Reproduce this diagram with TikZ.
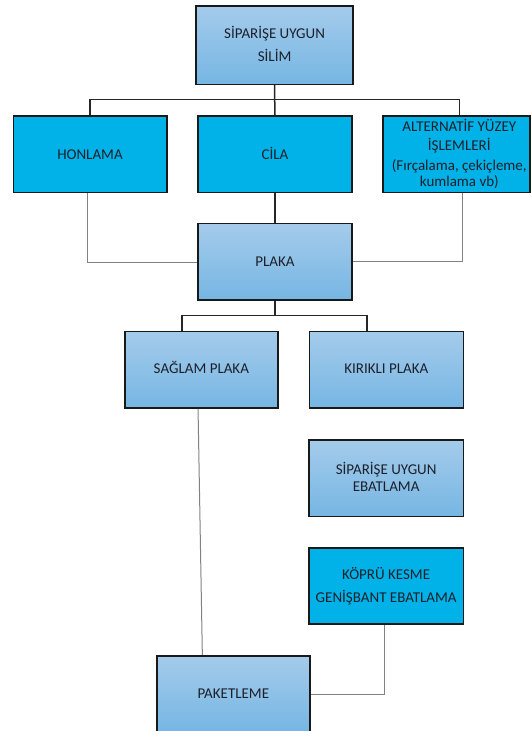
\documentclass[tikz,border=0pt]{standalone}
\usepackage{fontspec}
\setmainfont{Carlito}
\definecolor{cyanbox}{RGB}{0,178,232}
\definecolor{gradtop}{RGB}{164,203,235}
\definecolor{gradbot}{RGB}{118,182,227}
\definecolor{txtcol}{RGB}{28,32,42}
\definecolor{edgecol}{RGB}{25,25,25}
\definecolor{graylin}{RGB}{130,130,130}
\tikzset{
  boxbase/.style={draw=edgecol, line width=1.6pt, rectangle, inner sep=0pt, minimum height=76.5pt},
  gradbox/.style={boxbase, top color=gradtop, bottom color=gradbot},
  cyanbx/.style={boxbase, fill=cyanbox},
  lbl/.style={anchor=base, inner sep=0pt, text=txtcol, font=\fontsize{15}{18}\selectfont},
  darkln/.style={draw=black!85, line width=1.5pt},
  grayln/.style={draw=graylin, line width=1pt},
}
\begin{document}
\begin{tikzpicture}[x=1pt, y=-1pt]
\useasboundingbox (0,0) rectangle (531,731);
\clip (0,0) rectangle (531,731);
% boxes
\node[gradbox, minimum width=157pt, minimum height=78.3pt] (top) at (274.6,45.2) {};
\node[cyanbx, minimum width=153.4pt] (hon) at (90,154.2) {};
\node[cyanbx, minimum width=154pt] (cila) at (275,154.2) {};
\node[cyanbx, minimum width=147pt] (alt) at (456.5,154.2) {};
\node[gradbox, minimum width=154pt] (plaka) at (275,261.85) {};
\node[gradbox, minimum width=153.3pt] (sag) at (201.35,369.85) {};
\node[gradbox, minimum width=154pt] (kir) at (386.3,369.85) {};
\node[gradbox, minimum width=154.3pt] (ebat) at (386.15,478.35) {};
\node[cyanbx, minimum width=154.3pt] (kop) at (386.15,586) {};
\node[gradbox, minimum width=153.3pt] (pak) at (233.35,694) {};
% texts
\node[lbl] (top-a) at (274.6,38.7) {SİPARİŞE UYGUN};
\node[lbl] (top-b) at (274.6,61.7) {SİLİM};
\node[lbl] (hon-a) at (90,159) {HONLAMA};
\node[lbl] (cila-a) at (275,159) {CİLA};
\node[lbl] (alt-a) at (459.3,131) {ALTERNATİF YÜZEY};
\node[lbl] (alt-b) at (459.3,150) {İŞLEMLERİ};
\node[lbl] (alt-c) at (459.3,170.5) {(Fırçalama, çekiçleme,};
\node[lbl] (alt-d) at (459.3,186.7) {kumlama vb)};
\node[lbl] (plaka-a) at (275,266.5) {PLAKA};
\node[lbl] (sag-a) at (201.35,373.5) {SAĞLAM PLAKA};
\node[lbl] (kir-a) at (386.3,373.5) {KIRIKLI PLAKA};
\node[lbl] (ebat-a) at (386.15,474) {SİPARİŞE UYGUN};
\node[lbl] (ebat-b) at (386.15,491) {EBATLAMA};
\node[lbl] (kop-a) at (386.15,579.3) {KÖPRÜ KESME};
\node[lbl] (kop-b) at (386.15,602.3) {GENİŞBANT EBATLAMA};
\node[lbl] (pak-a) at (233.35,698.3) {PAKETLEME};
% connector helper points
\coordinate (b1) at (274.7,99.3);
\coordinate (altin) at ([xshift=2.8pt]alt.north);
\coordinate (b2) at (275,315.3);
\coordinate (sagin) at ([xshift=-19.3pt]sag.north);
\coordinate (kirin) at ([xshift=-19.3pt]kir.north);
% dark connectors
\draw[darkln] (top.south) -- (b1);
\draw[darkln] (hon.north) |- (b1) -| (altin);
\draw[darkln] (cila.north) -- (b1);
\draw[darkln] (cila.south) -- (plaka.north);
\draw[darkln] (plaka.south) -- (b2);
\draw[darkln] (sagin) |- (b2) -| (kirin);
% gray connectors
\draw[grayln] ([xshift=-2.3pt]hon.south) |- ([yshift=-1pt]plaka.west);
\draw[grayln] ([xshift=6.2pt]alt.south) |- (plaka.east);
\draw[grayln] ([xshift=-3.3pt]sag.south) -- ([xshift=-31pt]pak.north);
\draw[grayln] ([xshift=-1.2pt]kop.south) |- (pak.east);
\end{tikzpicture}
\end{document}
